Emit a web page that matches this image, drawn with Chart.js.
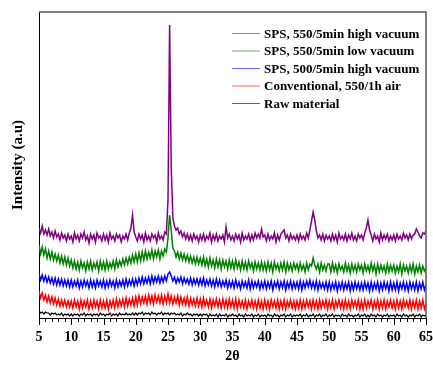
<!DOCTYPE html>
<html>
<head>
<meta charset="utf-8">
<title>XRD patterns</title>
<script src="https://cdn.jsdelivr.net/npm/chart.js@4.4.0/dist/chart.umd.min.js"></script>
<style>
  html, body { margin: 0; padding: 0; background: #fff; }
  #wrap { width: 433px; height: 367px; }
</style>
</head>
<body>
<div id="wrap"><canvas id="xrd" width="433" height="367"></canvas></div>
<script>
// 2theta grid: 5 to 65 in 0.25 deg steps (241 points)
const thetaStart = 5, thetaStep = 0.25;
const xTicks = [5, 10, 15, 20, 25, 30, 35, 40, 45, 50, 55, 60, 65];

const seriesNames = [
  'SPS, 550/5min high vacuum',
  'SPS, 550/5min low vacuum',
  'SPS, 500/5min high vacuum',
  'Conventional, 550/1h air',
  'Raw material'
];
const seriesColors = ['#800080', '#008000', '#0000ff', '#ff0000', '#000000'];

// intensities (a.u.), one row = 5 degrees
const sps550High = [
  90,85,92,84,88,83,89,82,86,80,87,81,84,78,85,80,83,77,84,79,
  82,76,85,79,83,77,84,80,86,78,82,75,84,79,83,76,85,80,82,77,
  84,78,83,76,85,79,82,77,84,80,83,76,82,79,84,78,85,90,103,86,
  81,77,84,79,83,76,85,78,82,77,84,80,83,76,85,79,82,78,86,84,
  118,293,150,100,92,88,90,84,87,81,85,79,84,78,83,77,84,79,82,76,
  83,78,84,77,82,79,85,76,83,78,84,77,82,79,83,76,91,80,84,78,
  82,77,84,79,83,76,85,78,82,79,84,77,83,78,85,80,84,80,89,81,
  83,77,84,78,82,79,85,76,83,78,84,86,88,80,83,77,84,79,82,78,
  83,77,84,79,82,78,85,80,88,97,106,98,87,80,83,78,84,77,83,79,
  82,77,84,78,83,76,85,79,82,78,84,77,83,79,85,78,82,77,84,80,
  83,78,85,90,98,88,83,77,84,79,82,76,85,78,83,79,84,77,82,78,
  83,77,84,79,82,78,85,80,83,78,84,79,83,84,89,86,82,80,85,84,
  87
];
const sps550Low = [
  73,64,71,63,69,60,67,59,66,58,64,57,63,55,62,54,61,53,60,52,
  58,50,57,49,56,48,57,50,55,47,56,49,57,48,55,50,56,47,57,49,
  56,48,57,49,55,50,57,49,58,51,57,52,59,53,60,54,61,55,63,56,
  64,56,65,57,66,58,67,59,66,60,68,59,67,61,68,59,67,62,69,66,
  80,103,88,70,67,61,66,59,65,58,64,57,63,56,62,55,61,54,61,54,
  60,53,61,52,59,51,60,52,58,50,59,51,58,49,58,51,57,49,58,50,
  57,49,58,50,56,48,57,49,56,48,57,50,55,47,56,49,55,48,56,48,
  55,47,56,48,55,46,56,49,54,47,55,48,56,46,55,48,54,47,55,49,
  54,47,55,48,53,46,55,48,54,52,60,53,49,54,46,55,48,53,47,54,
  54,46,55,47,53,45,54,48,52,46,55,47,53,45,54,47,53,46,54,48,
  53,45,54,47,52,46,55,47,53,44,54,46,53,47,52,45,54,46,53,47,
  53,45,52,46,54,44,53,47,52,45,53,46,54,44,52,46,53,45,52,47,
  50
];
const sps500High = [
  44,38,43,37,42,36,41,35,40,34,40,33,39,33,39,32,38,32,38,31,
  38,31,37,32,38,30,37,31,38,32,37,30,38,31,37,30,38,32,37,31,
  38,30,37,31,38,32,37,30,38,31,37,32,38,31,39,32,38,33,39,32,
  39,33,40,34,41,34,40,35,41,34,42,35,41,36,42,35,41,36,42,37,
  44,46,42,37,41,35,40,36,41,34,40,35,39,34,40,33,39,34,39,33,
  39,33,40,32,38,33,39,32,38,31,39,32,38,31,37,32,38,30,37,31,
  37,30,38,31,36,29,37,31,36,30,38,29,37,30,36,31,37,29,36,30,
  37,29,36,30,37,28,36,31,37,29,36,30,37,28,36,30,37,29,36,30,
  36,29,37,28,36,30,37,31,38,30,36,29,37,28,36,30,35,29,36,28,
  36,28,35,29,36,27,35,29,36,28,35,29,36,27,35,28,36,29,35,28,
  35,28,36,29,35,27,36,28,35,29,36,27,35,28,36,29,35,27,36,28,
  35,28,36,27,35,29,36,28,35,27,36,29,35,28,36,27,35,29,36,28,
  33
];
const conventional = [
  27,20,25,18,23,16,22,15,21,14,20,13,19,12,18,12,18,11,17,11,
  17,10,18,11,17,9,18,10,17,11,18,9,17,10,18,11,17,9,18,10,
  17,10,18,9,17,11,18,10,19,11,18,12,19,11,20,12,19,13,20,12,
  21,13,22,14,21,15,22,14,23,15,22,14,23,16,22,15,23,14,22,15,
  24,15,22,14,21,15,22,13,21,14,20,13,21,12,20,13,19,12,20,12,
  19,11,20,12,18,11,19,10,18,12,19,11,18,10,19,11,18,10,19,11,
  18,10,19,9,18,11,17,10,18,9,17,11,18,10,17,9,18,10,17,9,
  18,10,17,9,18,11,17,10,18,9,17,10,18,9,17,11,18,10,17,9,
  17,10,18,9,17,10,18,11,17,9,18,10,17,9,18,10,17,11,18,9,
  17,10,18,9,17,11,18,10,17,9,18,10,17,9,18,11,17,10,18,9,
  17,9,18,10,17,11,18,9,17,10,18,9,17,10,18,9,17,11,18,10,
  17,9,18,10,17,9,18,11,17,10,18,9,17,10,18,9,17,10,18,9,
  14
];
const rawMaterial = [
  7,5,6,4,6,5,5,3,5,4,5,3,4,3,5,2,4,3,4,2,
  4,2,4,3,4,2,4,3,5,2,4,3,4,2,4,3,4,2,5,3,
  4,2,4,3,5,2,4,3,4,2,5,3,4,3,5,3,4,3,5,3,
  5,3,5,4,6,3,5,4,5,3,6,4,5,3,5,4,6,3,5,4,
  5,3,5,4,5,3,4,3,5,2,4,3,5,3,4,2,4,3,4,2,
  4,2,4,3,4,1,4,2,3,2,4,1,4,2,3,2,4,1,3,2,
  4,2,3,1,4,2,3,1,4,2,3,2,4,1,3,2,4,1,3,2,
  3,1,4,2,3,1,4,2,3,1,3,2,4,1,3,2,4,1,3,2,
  3,2,4,1,3,2,4,1,3,2,4,1,3,2,4,1,3,2,4,1,
  3,2,4,1,3,2,3,1,4,2,3,1,4,2,3,1,3,2,4,1,
  3,2,4,1,3,1,4,2,3,1,4,2,3,1,3,2,4,1,3,2,
  3,1,4,2,3,1,4,2,3,1,3,2,4,1,3,2,4,1,3,2,
  3
];

const allSeries = [sps550High, sps550Low, sps500High, conventional, rawMaterial];

function toPoints(vals) {
  return vals.map((v, i) => ({ x: thetaStart + i * thetaStep, y: v }));
}

const serif = '"Liberation Serif", "Times New Roman", serif';

// frame, minor/major ticks on x and the inset legend
const decor = {
  id: 'decor',
  afterDraw(chart) {
    const ctx = chart.ctx;
    const a = chart.chartArea;
    const xs = chart.scales.x;
    ctx.save();
    // top + right frame
    ctx.strokeStyle = '#555';
    ctx.lineWidth = 1.5;
    ctx.beginPath();
    ctx.moveTo(a.left, a.top);
    ctx.lineTo(a.right, a.top);
    ctx.lineTo(a.right, a.bottom);
    ctx.stroke();
    // x ticks, outward
    ctx.strokeStyle = '#000';
    ctx.lineWidth = 1;
    for (let v = 5; v <= 65; v++) {
      const px = Math.round(xs.getPixelForValue(v)) + 0.5;
      const len = v % 5 === 0 ? 7 : 4;
      ctx.beginPath();
      ctx.moveTo(px, a.bottom);
      ctx.lineTo(px, a.bottom + len);
      ctx.stroke();
    }
    // legend
    ctx.font = 'bold 13px ' + serif;
    ctx.textBaseline = 'middle';
    ctx.fillStyle = '#000';
    chart.data.datasets.forEach((ds, i) => {
      const y = 33.5 + i * 17.5;
      ctx.strokeStyle = ds.borderColor;
      ctx.globalAlpha = 0.6;
      ctx.lineWidth = 1;
      ctx.beginPath();
      ctx.moveTo(232, y);
      ctx.lineTo(260, y);
      ctx.stroke();
      ctx.globalAlpha = 1;
      ctx.fillText(ds.label, 264, y + 1);
    });
    ctx.restore();
  }
};

new Chart(document.getElementById('xrd'), {
  type: 'line',
  data: {
    datasets: allSeries.map((vals, i) => ({
      label: seriesNames[i],
      data: toPoints(vals),
      borderColor: seriesColors[i],
      borderWidth: i === 4 ? 1.2 : 1.5,
      pointRadius: 0,
      tension: 0,
      fill: false
    }))
  },
  options: {
    responsive: false,
    animation: false,
    events: [],
    layout: { padding: { top: 12, right: 7, left: 0, bottom: 0 } },
    plugins: {
      legend: { display: false },
      tooltip: { enabled: false }
    },
    scales: {
      x: {
        type: 'linear',
        min: 5,
        max: 65,
        afterFit(s) { s.height = 49; s.paddingLeft = 0; s.paddingRight = 0; },
        afterBuildTicks(s) { s.ticks = xTicks.map(v => ({ value: v })); },
        grid: { display: false, drawTicks: false },
        border: { display: true, color: '#000', width: 1 },
        ticks: {
          color: '#000',
          padding: 11,
          maxRotation: 0,
          font: { family: serif, size: 14, weight: 'bold' }
        },
        title: {
          display: true,
          text: '2θ',
          color: '#000',
          font: { family: serif, size: 14, weight: 'bold' },
          padding: { top: 0, bottom: 2 }
        }
      },
      y: {
        min: 0,
        max: 306,
        afterFit(s) { s.width = 39; },
        grid: { display: false, drawTicks: false },
        border: { display: true, color: '#000', width: 1 },
        ticks: { display: false },
        title: {
          display: true,
          text: 'Intensity (a.u)',
          color: '#000',
          font: { family: serif, size: 15, weight: 'bold' },
          padding: { top: 9, bottom: 0 }
        }
      }
    }
  },
  plugins: [decor]
});
</script>
</body>
</html>
